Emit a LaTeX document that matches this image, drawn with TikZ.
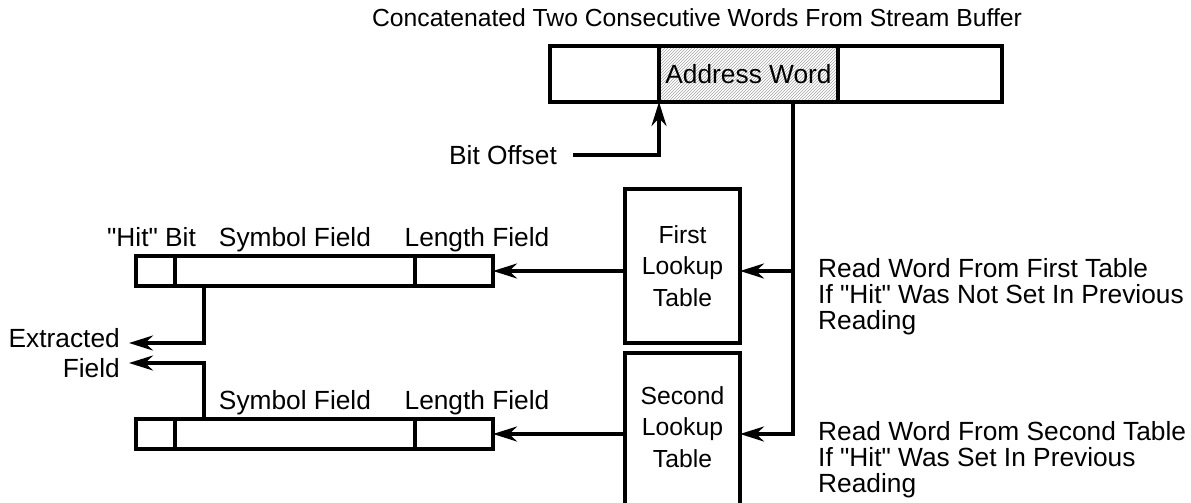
\documentclass[tikz,border=0pt]{standalone}
\usepackage{fontspec}
\setmainfont{Liberation Sans}
\usepackage{tikz}
\usetikzlibrary{arrows.meta, positioning, patterns, calc}

\newcommand{\qhit}{\textquotedbl Hit\textquotedbl}

\begin{document}
\begin{tikzpicture}[
    x=1pt, y=-1pt,
    font=\fontsize{26.3}{26}\selectfont,
    >={Stealth[length=24pt,width=15pt]},
    cell/.style={
        rectangle,
        draw,
        line width=3.2pt,
        inner sep=0pt,
        outer sep=0pt
    },
    bufcell/.style={
        cell,
        minimum height=56pt
    },
    addrcell/.style={
        bufcell,
        pattern=north east lines,
        pattern color=gray!70
    },
    reccell/.style={
        cell,
        minimum height=30pt
    },
    tablebox/.style={
        cell,
        align=center,
        minimum width=115pt,
        font=\fontsize{24.7}{31.5}\selectfont
    },
    fieldlbl/.style={
        inner sep=0pt,
        text height=0.75em,
        text depth=0.25em
    },
    note/.style={
        align=left,
        inner sep=0pt
    },
    flow/.style={
        ->,
        line width=3.2pt
    }
]

\useasboundingbox (0,0) rectangle (1191,503);
\clip (0,0) rectangle (1191,503);

% --- Stream buffer -----------------------------------------------------------

\node[font=\fontsize{24.7}{26}\selectfont] (title) at (697,18)
    {Concatenated Two Consecutive Words From Stream Buffer};

\node[bufcell, minimum width=109pt, anchor=north west] (bufL) at (550,46) {};
\node[addrcell, minimum width=179pt, right=0pt of bufL] (addr) {Address Word};
\node[bufcell, minimum width=164pt, right=0pt of addr] (bufR) {};

\node[note, anchor=east] (bitoff) at (557,155) {Bit Offset};

\coordinate (tap) at ([xshift=-45pt]addr.south east);

% --- Lookup tables -----------------------------------------------------------

\node[tablebox, minimum height=154pt, anchor=north west] (tab1) at (625,189)
    {First\\Lookup\\Table};

\node[tablebox, minimum height=190pt, anchor=north west] (tab2) at (625,353) {};
\node[tablebox, draw=none, anchor=center] (tab2txt) at ([yshift=-74pt]tab2.north)
    {Second\\Lookup\\Table};

% --- Extracted words ---------------------------------------------------------

\node[reccell, minimum width=39pt, anchor=north west] (hit1) at (136,256) {};
\node[reccell, minimum width=240pt, right=0pt of hit1] (sym1) {};
\node[reccell, minimum width=78pt, right=0pt of sym1] (len1) {};

\node[reccell, minimum width=39pt, anchor=north west] (hit2) at (136,419) {};
\node[reccell, minimum width=240pt, right=0pt of hit2] (sym2) {};
\node[reccell, minimum width=78pt, right=0pt of sym2] (len2) {};

\node[fieldlbl, above=7pt of hit1, xshift=-4pt] (hitlbl1) {\qhit{} Bit};
\node[fieldlbl, above=7pt of sym1] (symlbl1) {Symbol Field};
\node[fieldlbl, above=7pt of len1, xshift=23pt] (lenlbl1) {Length Field};

\node[fieldlbl, above=7pt of sym2] (symlbl2) {Symbol Field};
\node[fieldlbl, above=7pt of len2, xshift=23pt] (lenlbl2) {Length Field};

\node[note, align=right, anchor=east, font=\fontsize{26.3}{30}\selectfont] (extr) at (120,353)
    {Extracted\\Field};

% --- Notes -------------------------------------------------------------------

\node[note, anchor=west] (read1) at (818,297)
    {Read Word From First Table\\If \qhit{} Was Not Set In Previous\\Reading};
\node[note, anchor=west] (read2) at (818,460)
    {Read Word From Second Table\\If \qhit{} Was Set In Previous\\Reading};

% --- Arrows ------------------------------------------------------------------

\draw[flow] ([xshift=16pt]bitoff.east) -| (addr.south west);

\draw[flow] (tap) |- (tab1.east |- len1);
\draw[flow] (tap) |- (tab2.east |- len2);

\draw[flow] (tab1.west |- len1) -- (len1.east);
\draw[flow] (tab2.west |- len2) -- (len2.east);

\draw[flow] ([xshift=29pt]sym1.south west) |- ([xshift=9pt,yshift=10pt]extr.east);
\draw[flow] ([xshift=29pt]sym2.north west) |- ([xshift=9pt,yshift=-10pt]extr.east);

\end{tikzpicture}
\end{document}
